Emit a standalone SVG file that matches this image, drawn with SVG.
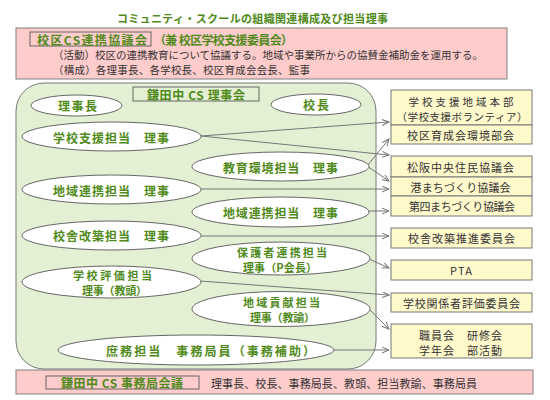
<svg xmlns="http://www.w3.org/2000/svg" width="550" height="400" viewBox="0 0 550 400">
<defs>
<marker id="arr" markerUnits="userSpaceOnUse" markerWidth="8" markerHeight="8" refX="7" refY="3" orient="auto">
<path d="M0,0 L7,3 L0,6" fill="none" stroke="#777" stroke-width="1"/>
</marker>
<style>
text{font-family:"Noto Sans CJK JP","Noto Sans CJK SC",sans-serif;dominant-baseline:central}
.g{fill:#4f8a1a;font-weight:bold;font-size:12px;text-anchor:middle}
.g2{font-size:11px}
.k{fill:#333;font-size:11px;text-anchor:middle}
.k2{font-size:10.5px}
.b{fill:#333;font-size:10.5px}
.pink{fill:#ffcccc;stroke:#808080;stroke-width:1}
.lbl{fill:none;stroke:#666;stroke-width:1}
.ell{fill:#fff;stroke:#666;stroke-width:1}
.box{fill:#fff9cc;stroke:#777;stroke-width:1}
.c{stroke:#777;stroke-width:1;fill:none;marker-end:url(#arr)}
</style>
</defs>
<rect width="550" height="400" fill="#fff"/>
<text x="252.5" y="18" class="g" style="font-size:11px" textLength="271">コミュニティ・スクールの組織関連構成及び担当理事</text>

<g id="council">
<rect class="pink" x="16" y="28" width="491" height="51"/>
<rect class="lbl" x="30" y="32" width="121" height="14"/>
<text class="g" x="92" y="39" textLength="110">校区CS連携協議会</text>
<text class="g" x="223.5" y="39" textLength="139">（兼 校区学校支援委員会）</text>
<text class="b" x="53" y="54" textLength="430">（活動）校区の連携教育について協議する。地域や事業所からの協賛金補助金を運用する。</text>
<text class="b" x="53" y="69" textLength="257">（構成）各理事長、各学校長、校区育成会会長、監事</text>
</g>

<g id="board">
<rect x="16" y="83" width="360" height="286" rx="28" ry="28" fill="#e4f0d4" stroke="#777"/>
<rect class="lbl" x="133" y="87" width="126" height="14"/>
<text class="g" x="196" y="94" textLength="98">鎌田中 CS 理事会</text>
</g>

<g id="connectors">
<line class="c" x1="201" y1="136" x2="389" y2="122"/>
<line class="c" x1="201" y1="136" x2="389" y2="155"/>
<line class="c" x1="367" y1="166" x2="389" y2="139"/>
<line class="c" x1="367" y1="166" x2="389" y2="181"/>
<line class="c" x1="201" y1="189" x2="389" y2="189"/>
<line class="c" x1="369" y1="211" x2="389" y2="211"/>
<line class="c" x1="201" y1="236" x2="389" y2="236"/>
<line class="c" x1="369" y1="259" x2="389" y2="268"/>
<line class="c" x1="200" y1="281" x2="389" y2="295"/>
<line class="c" x1="368" y1="308" x2="389" y2="329"/>
<line class="c" x1="334" y1="350" x2="389" y2="350"/>
</g>

<g id="n-richo"><ellipse class="ell" cx="76.5" cy="105.5" rx="45.5" ry="10.5"/><text class="g" x="77.5" y="105" textLength="39">理事長</text></g>
<g id="n-kocho"><ellipse class="ell" cx="316" cy="104.5" rx="45" ry="10.5"/><text class="g" x="316" y="104" textLength="26">校長</text></g>
<g id="n-gakko"><ellipse class="ell" cx="111.5" cy="136.5" rx="89.5" ry="14.5"/><text class="g" x="111" y="137" textLength="116">学校支援担当　理事</text></g>
<g id="n-kyoiku"><ellipse class="ell" cx="280.5" cy="166.5" rx="88.5" ry="14.5"/><text class="g" x="280.5" y="167" textLength="115">教育環境担当　理事</text></g>
<g id="n-chiiki1"><ellipse class="ell" cx="111.5" cy="189.5" rx="89.5" ry="14.5"/><text class="g" x="111" y="190" textLength="116">地域連携担当　理事</text></g>
<g id="n-chiiki2"><ellipse class="ell" cx="280.5" cy="212" rx="88.5" ry="15"/><text class="g" x="280.5" y="212" textLength="115">地域連携担当　理事</text></g>
<g id="n-kosha"><ellipse class="ell" cx="111.5" cy="235.5" rx="89.5" ry="14.5"/><text class="g" x="111" y="235" textLength="116">校舎改築担当　理事</text></g>
<g id="n-hogosha"><ellipse class="ell" cx="281" cy="258.5" rx="89" ry="16.5"/><text class="g g2" x="282" y="251.5" textLength="90">保護者連携担当</text><text class="g g2" x="280" y="267" textLength="74">理事（P会長）</text></g>
<g id="n-hyoka"><ellipse class="ell" cx="111.5" cy="282" rx="89.5" ry="16"/><text class="g g2" x="112.5" y="275" textLength="79">学校評価担当</text><text class="g g2" x="114.5" y="290" textLength="65">理事（教頭）</text></g>
<g id="n-koken"><ellipse class="ell" cx="281" cy="309" rx="89" ry="17.5"/><text class="g g2" x="281.5" y="301.5" textLength="77">地域貢献担当</text><text class="g g2" x="282.5" y="317" textLength="65">理事（教諭）</text></g>
<g id="n-shomu"><ellipse class="ell" cx="196" cy="350" rx="138" ry="15"/><text class="g" x="210.5" y="350" textLength="209">庶務担当　事務局員（事務補助）</text></g>

<g id="r-honbu">
<rect class="box" x="391" y="90" width="141" height="35"/>
<text class="k k2" x="461" y="101.5" textLength="105">学校支援地域本部</text>
<text class="k k2" x="462" y="116" textLength="131">（学校支援ボランティア）</text>
</g>
<g id="r-ikusei"><rect class="box" x="391" y="125" width="141" height="19"/><text class="k" x="460.5" y="134.5" textLength="107">校区育成会環境部会</text></g>
<g id="r-matsusaka"><rect class="box" x="391" y="156" width="141" height="21"/><text class="k" x="460.5" y="166.5" textLength="107">松阪中央住民協議会</text></g>
<g id="r-minato"><rect class="box" x="391" y="177" width="141" height="19"/><text class="k" x="460.5" y="186.5" textLength="100">港まちづくり協議会</text></g>
<g id="r-daishi"><rect class="box" x="391" y="196" width="141" height="20"/><text class="k" x="462" y="206" textLength="106">第四まちづくり協議会</text></g>
<g id="r-kosha"><rect class="box" x="391" y="228" width="141" height="20"/><text class="k" x="461.5" y="238" textLength="107">校舎改築推進委員会</text></g>
<g id="r-pta"><rect class="box" x="391" y="260" width="141" height="20"/><text class="k" x="461" y="270" textLength="22">PTA</text></g>
<g id="r-hyoka"><rect class="box" x="391" y="293" width="141" height="19"/><text class="k" x="461.5" y="302.5" textLength="117">学校関係者評価委員会</text></g>
<g id="r-shokuin"><rect class="box" x="391" y="324" width="141" height="34"/><text class="k" x="460.5" y="334.5" textLength="83">職員会　研修会</text><text class="k" x="460.5" y="350" textLength="83">学年会　部活動</text></g>

<g id="office">
<rect class="pink" x="16" y="370" width="517" height="24"/>
<rect class="lbl" x="46" y="376" width="153" height="13"/>
<text class="g" x="122" y="382.5" textLength="122">鎌田中 CS 事務局会議</text>
<text class="b" x="211" y="382.5" style="font-size:11px" textLength="266">理事長、校長、事務局長、教頭、担当教諭、事務局員</text>
</g>
</svg>
